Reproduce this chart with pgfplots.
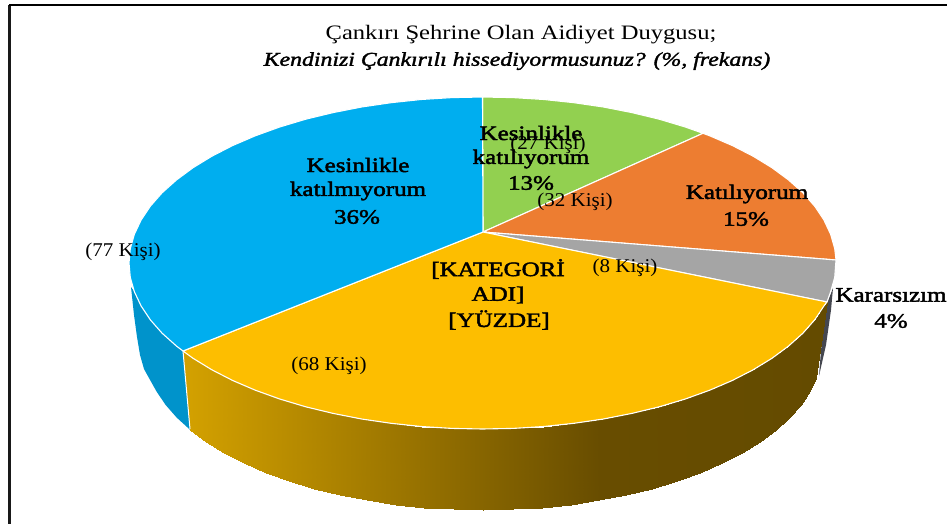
\documentclass[border=0pt]{standalone}
\usepackage{fontspec}
\setmainfont{Liberation Serif}
\newfontfamily\ttl[FakeStretch=1.2]{Liberation Serif}
\newfontfamily\ttli[FakeStretch=1.22,FakeBold=1.8]{Liberation Serif}
\newfontfamily\lab[FakeStretch=1.22,FakeBold=2.2]{Liberation Serif}
\newfontfamily\kis[FakeStretch=1.08]{Liberation Serif}
\usepackage{pgfplots}
\pgfplotsset{compat=1.18}
\definecolor{cblue}{HTML}{00AEEF}
\definecolor{cgreen}{HTML}{92D050}
\definecolor{corange}{HTML}{ED7D31}
\definecolor{cgrey}{HTML}{A5A5A5}
\definecolor{cyellow}{HTML}{FDBE00}
\definecolor{cblueside}{HTML}{0093CB}
\definecolor{cgreyside}{HTML}{45474F}
\pgfplotsset{colormap={side}{rgb255(0pt)=(210,160,0) rgb255(410pt)=(104,77,0) rgb255(640pt)=(100,75,0)}}
\begin{document}
\begin{tikzpicture}
\begin{axis}[
  scale only axis, width=947pt, height=524pt,
  xmin=0, xmax=947, ymin=0, ymax=524, y dir=reverse,
  hide axis, clip=true,
  point meta min=190, point meta max=830, colormap name=side,
]
% frame
\addplot[black!90, line width=2.7pt, forget plot] coordinates {(9.7,524) (9.7,5)};
\addplot[black, line width=1.5pt, forget plot] coordinates {(9,5) (947,5)};
% side walls
\addplot[fill=cblueside, draw=none, forget plot] coordinates {
 (183,351) (176.4,346) (162.1,333.2) (150.3,319.8) (141.1,306) (134.4,291.8) (131,287)
 (134,315) (137,337) (140,355) (144,369) (150.1,380) (156.5,391.4) (165.4,404.7) (176.7,417.6) (190.3,430)} -- cycle;
\addplot[fill=cgreyside, draw=none, forget plot] coordinates {
 (833,288) (827,303) (821,350) (819,376) (826,345) (831,310)} -- cycle;
\addplot[surf, shader=interp, mesh/rows=2, point meta=x, forget plot] table {
x y
183 351
192.9 358.2
211.7 369.7
232.5 380.4
255.3 390.2
279.7 399
305.7 406.8
333.1 413.4
361.6 419
391 423.3
421.1 426.5
451.7 428.4
482.5 429
513.3 428.4
543.9 426.5
574 423.3
603.4 419
631.9 413.4
659.3 406.8
685.3 399
709.7 390.2
732.5 380.4
753.3 369.7
772.1 358.2
788.6 346
802.9 333.2
814.7 319.8
823.9 306
827 302
190.3 430
206.1 441.8
224.1 452.8
244 463.1
265.7 472.6
289.1 481.1
314 488.6
340.2 495
367.4 500.4
395.5 504.5
424.3 507.6
453.5 509.4
483 510
512.5 509.4
541.7 507.6
570.5 504.5
598.6 500.4
625.8 495
652 488.6
676.9 481.1
700.3 472.6
722 463.1
741.9 452.8
759.9 441.8
775.7 430
789.3 417.6
800.6 404.7
809.5 391.4
816 378
};
\addplot[white, line width=1pt, forget plot] coordinates {(183,351) (190,429)};
% top surface
\addplot[fill=cgreen, draw=white, line width=1.1pt, line join=round, forget plot] coordinates {
 (483,232) (482.5,97) (513.3,97.6) (543.9,99.5) (574,102.7) (603.4,107) (631.9,112.6) (659.3,119.2) (685.3,127) (703,133.3)} -- cycle;
\addplot[fill=corange, draw=white, line width=1.1pt, line join=round, forget plot] coordinates {
 (483,232) (703,133.3) (709.7,135.8) (732.5,145.6) (753.3,156.3) (772.1,167.8) (788.6,180) (802.9,192.8) (814.7,206.2) (823.9,220) (830.6,234.2) (834.7,248.5) (836,260)} -- cycle;
\addplot[fill=cgrey, draw=white, line width=1.1pt, line join=round, forget plot] coordinates {
 (483,232) (836,260) (834.7,277.5) (830.6,291.8) (827,302)} -- cycle;
\addplot[fill=cyellow, draw=white, line width=1.1pt, line join=round, forget plot] coordinates {
 (483,232) (827,302) (823.9,306) (814.7,319.8) (802.9,333.2) (788.6,346) (772.1,358.2) (753.3,369.7) (732.5,380.4) (709.7,390.2) (685.3,399) (659.3,406.8) (631.9,413.4) (603.4,419) (574,423.3) (543.9,426.5) (513.3,428.4) (482.5,429) (451.7,428.4) (421.1,426.5) (391,423.3) (361.6,419) (333.1,413.4) (305.7,406.8) (279.7,399) (255.3,390.2) (232.5,380.4) (211.7,369.7) (192.9,358.2) (183,351)} -- cycle;
\addplot[fill=cblue, draw=white, line width=1.1pt, line join=round, forget plot] coordinates {
 (483,232) (183,351) (176.4,346) (162.1,333.2) (150.3,319.8) (141.1,306) (134.4,291.8) (130.3,277.5) (129,263) (130.3,248.5) (134.4,234.2) (141.1,220) (150.3,206.2) (162.1,192.8) (176.4,180) (192.9,167.8) (211.7,156.3) (232.5,145.6) (255.3,135.8) (279.7,127) (305.7,119.2) (333.1,112.6) (361.6,107) (391,102.7) (421.1,99.5) (451.7,97.6) (482.5,97)} -- cycle;
% texts
\tikzset{b/.style={font=\lab\fontsize{20.5}{22}\selectfont, inner sep=0pt, anchor=center},
         k/.style={font=\kis\fontsize{19.5}{22}\selectfont, inner sep=0pt, anchor=center}}
\node[font=\ttl\fontsize{20.5}{22}\selectfont, inner sep=0pt] at (axis cs:521,35) {Çankırı Şehrine Olan Aidiyet Duygusu;};
\node[font=\ttli\itshape\fontsize{19.5}{22}\selectfont, inner sep=0pt] at (axis cs:517,61) {Kendinizi Çankırılı hissediyormusunuz? (\%, frekans)};
\node[b] at (axis cs:358,165) {Kesinlikle};
\node[b] at (axis cs:358,191) {katılmıyorum};
\node[b] at (axis cs:357,217) {36\%};
\node[k] at (axis cs:123,252) {(77 Kişi)};
\node[b] at (axis cs:531,133) {Kesinlikle};
\node[b] at (axis cs:531,159) {katılıyorum};
\node[b] at (axis cs:531,183) {13\%};
\node[k] at (axis cs:548,145) {(27 Kişi)};
\node[k] at (axis cs:575,202) {(32 Kişi)};
\node[b] at (axis cs:747,194) {Katılıyorum};
\node[b] at (axis cs:746,219) {15\%};
\node[k] at (axis cs:625,268) {(8 Kişi)};
\node[b] at (axis cs:891,295) {Kararsızım};
\node[b] at (axis cs:891,321) {4\%};
\node[b] at (axis cs:498,269) {[KATEGORİ};
\node[b] at (axis cs:498,295) {ADI]};
\node[b] at (axis cs:499,320) {[YÜZDE]};
\node[k] at (axis cs:329,366) {(68 Kişi)};
\end{axis}
\path[use as bounding box] (current axis.south west) rectangle (current axis.north east);
\end{tikzpicture}
\end{document}
